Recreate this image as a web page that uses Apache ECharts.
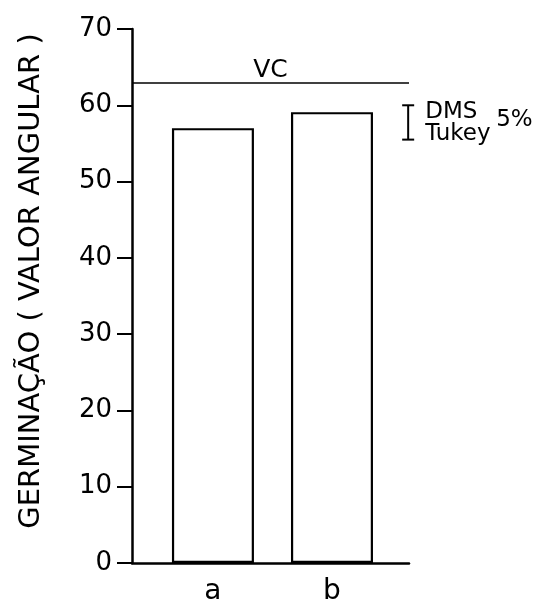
<!DOCTYPE html>
<html>
<head>
<meta charset="utf-8">
<script src="https://cdn.jsdelivr.net/npm/echarts@6/dist/echarts.min.js"></script>
<style>
  html, body { margin: 0; padding: 0; background: #fff; }
  #chart { width: 543px; height: 599px; }
</style>
</head>
<body>
<div id="chart"></div>
<script>
// Treatments and germination (angular value)
const categories = ['a', 'b'];
const germinacao = [57.0, 59.1];
// Coefficient-of-variation reference level
const vcLevel = [62.9];
// 5% Tukey LSD bar: upper and lower ends
const dmsTukey = [60.0, 55.5];
// Position of the LSD bar along the category axis
const dmsPosition = [1.64];
const yTickMin = 0, yTickMax = 70, yTickStep = 10;

const FONT = 'DejaVu Sans';
const INK = '#000';

const chart = echarts.init(document.getElementById('chart'), null, { renderer: 'canvas' });

chart.setOption({
  backgroundColor: '#fff',
  animation: false,
  grid: { left: 132, right: 134, top: 29, bottom: 36, containLabel: false, outerBoundsMode: 'none' },
  xAxis: {
    type: 'value',
    min: -0.68,
    max: 1.647,
    splitLine: { show: false },
    axisTick: { show: false },
    axisLine: { show: true, onZero: false, lineStyle: { color: INK, width: 2.5 } },
    axisLabel: {
      customValues: categories.map((c, i) => i),
      formatter: v => categories[Math.round(v)],
      color: INK, fontFamily: FONT, fontSize: 28, margin: 15
    }
  },
  yAxis: {
    type: 'value',
    min: yTickMin, max: yTickMax, interval: yTickStep,
    name: 'GERMINAÇÃO ( VALOR ANGULAR )',
    nameLocation: 'middle',
    nameRotate: 90,
    nameGap: 86,
    nameTextStyle: { color: INK, fontFamily: FONT, fontSize: 29, padding: [0, 0, 0, 30] },
    splitLine: { show: false },
    axisLine: { show: true, onZero: false, lineStyle: { color: INK, width: 2.5 } },
    axisTick: { show: true, inside: false, length: 15, lineStyle: { color: INK, width: 2 } },
    axisLabel: { color: INK, fontFamily: FONT, fontSize: 26, margin: 20 }
  },
  series: [
    {
      type: 'bar',
      data: germinacao.map((v, i) => [i, v]),
      barWidth: 82,
      itemStyle: { color: '#fff', borderColor: INK, borderWidth: 2.2 },
      markLine: {
        silent: true,
        symbol: 'none',
        lineStyle: { color: INK, width: 1.5, type: 'solid' },
        label: {
          show: true, position: 'insideMiddleTop', formatter: 'VC',
          color: INK, fontFamily: FONT, fontSize: 25, distance: 0
        },
        data: vcLevel.map(v => ({ yAxis: v }))
      }
    },
    {
      type: 'custom',
      clip: false,
      data: [[dmsPosition[0], dmsTukey[0], dmsTukey[1]]],
      renderItem(params, api) {
        const top = api.coord([api.value(0), api.value(1)]);
        const bot = api.coord([api.value(0), api.value(2)]);
        const x = top[0];
        const ls = { stroke: INK, lineWidth: 2 };
        const txt = (t, dx, dy, size) => ({
          type: 'text', x: x + dx, y: top[1] + dy,
          style: { text: t, fill: INK, font: size + 'px "' + FONT + '"', align: 'left', verticalAlign: 'middle' }
        });
        return {
          type: 'group',
          children: [
            { type: 'line', shape: { x1: x, y1: top[1], x2: x, y2: bot[1] }, style: ls },
            { type: 'line', shape: { x1: x - 6, y1: top[1], x2: x + 6, y2: top[1] }, style: ls },
            { type: 'line', shape: { x1: x - 6, y1: bot[1], x2: x + 6, y2: bot[1] }, style: ls },
            txt('DMS', 17, 7, 23),
            txt('5%', 88, 15, 23),
            txt('Tukey', 17, 29, 23)
          ]
        };
      }
    }
  ]
});
</script>
</body>
</html>
